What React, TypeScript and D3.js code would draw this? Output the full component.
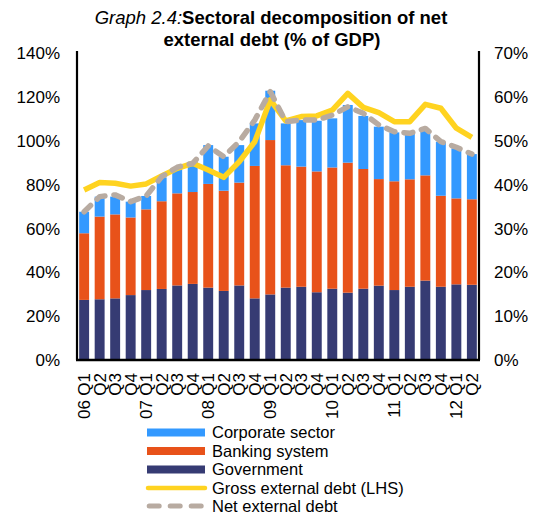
import React from "react";
import * as d3 from "d3";

const quarters = ["Q1","Q2","Q3","Q4","Q1","Q2","Q3","Q4","Q1","Q2","Q3","Q4","Q1","Q2","Q3","Q4","Q1","Q2","Q3","Q4","Q1","Q2","Q3","Q4","Q1","Q2"];
const years = ["06","","","","07","","","","08","","","","09","","","","10","","","","11","","","","12",""];

const government = [27.4,27.7,28.1,29.6,31.9,32.4,34.0,34.7,33.0,31.5,34.0,28.1,29.9,33.0,33.4,30.9,32.5,30.7,32.5,33.9,31.9,33.4,36.2,33.4,34.5,34.3];
const banking = [30.4,37.7,38.3,35.4,36.8,40.0,42.0,41.9,47.3,45.7,46.9,60.4,70.4,55.8,54.8,55.1,55.3,59.3,54.6,48.6,49.6,49.0,48.0,41.5,39.2,39.0];
const corporate = [9.8,9.1,8.1,7.2,6.1,10.9,11.4,13.8,17.7,15.5,17.1,19.4,22.5,19.1,21.2,23.1,22.4,26.3,24.2,23.9,22.3,20.9,20.4,24.6,22.8,20.6];
const grossDebt = [77.5,80.9,80.6,79.3,80.3,83.9,87.4,89.7,86.6,83.3,90.4,99.5,118.6,109.0,111.0,111.3,114.0,121.6,115.2,112.8,108.7,108.7,116.6,114.8,105.7,101.5];
const netDebt = [67.6,74.5,75.3,72.2,74.8,83.6,87.9,89.7,97.6,92.7,99.6,109.4,122.4,108.7,109.4,109.4,111.7,115.5,112.5,107.2,104.1,103.4,105.6,99.6,97.0,93.9];

const leftTicks = [0,20,40,60,80,100,120,140];
const rightTicks = [0,10,20,30,40,50,60,70];

const seriesNames = ["Corporate sector","Banking system","Government","Gross external debt (LHS)","Net external debt"];
const colors = { corp: "#3399FF", bank: "#E8521A", gov: "#363B73", gross: "#FFD320", net: "#B8ABA1" };

export default function App() {
  const W = 536, H = 514;
  const left = 77, right = 479, top = 53, bottom = 360;
  const idx = d3.range(quarters.length);
  const x = d3.scaleBand<number>().domain(idx).range([left, right]).paddingInner(0.36).paddingOuter(0.14);
  const y = d3.scaleLinear().domain([0, 140]).range([bottom, top]);
  const yR = d3.scaleLinear().domain([0, 70]).range([bottom, top]);
  const cx = (i: number) => (x(i) as number) + x.bandwidth() / 2;
  const line = d3.line<number>().x((_, i) => cx(i)).y((d) => y(d));
  const font = "'Liberation Sans', Arial, sans-serif";

  const stacks = idx.map((i) => {
    const g = government[i], b = banking[i], c = corporate[i];
    return [
      { y0: 0, y1: g, color: colors.gov },
      { y0: g, y1: g + b, color: colors.bank },
      { y0: g + b, y1: g + b + c, color: colors.corp },
    ];
  });

  const legendY = [432.5, 451, 469.5, 488, 506];

  return (
    <svg width={W} height={H} style={{ display: "block", position: "absolute", left: 0, top: 0 }} fontFamily={font}>
      <rect width={W} height={H} fill="#fff" />
      <text x={271} y={24} textAnchor="middle" fontSize={18.5}>
        <tspan fontStyle="italic">Graph 2.4:</tspan>
        <tspan fontWeight="bold">Sectoral decomposition of net</tspan>
      </text>
      <text x={272} y={46} textAnchor="middle" fontSize={18.5} fontWeight="bold">external debt (% of GDP)</text>

      {stacks.map((s, i) =>
        s.map((seg, j) => (
          <rect key={`${i}-${j}`} x={x(i)} y={y(seg.y1)} width={x.bandwidth()} height={y(seg.y0) - y(seg.y1)} fill={seg.color} />
        ))
      )}

      <path d={line(grossDebt) || ""} fill="none" stroke={colors.gross} strokeWidth={5.5} strokeLinejoin="round" />
      <path d={line(netDebt) || ""} fill="none" stroke={colors.net} strokeWidth={5.5} strokeDasharray="9 9" strokeLinecap="round" strokeLinejoin="round" />

      <line x1={left} x2={left} y1={top - 2} y2={bottom} stroke="#000" strokeWidth={2.2} />
      <line x1={right} x2={right} y1={top - 2} y2={bottom} stroke="#000" strokeWidth={2.2} />
      <line x1={left - 1} x2={right + 1} y1={bottom} y2={bottom} stroke="#000" strokeWidth={2.6} />

      {leftTicks.map((t) => (
        <text key={`l${t}`} x={60} y={y(t)} dy="0.36em" textAnchor="end" fontSize={17} fill="#000">{t}%</text>
      ))}
      {rightTicks.map((t) => (
        <text key={`r${t}`} x={494} y={yR(t)} dy="0.36em" textAnchor="start" fontSize={17} fill="#000">{t}%</text>
      ))}

      {quarters.map((q, i) => (
        <text key={`q${i}`} transform={`translate(${cx(i) + 6},${373}) rotate(-90)`} textAnchor="end" fontSize={17}>{q}</text>
      ))}
      {years.map((yr, i) => yr ? (
        <text key={`y${i}`} transform={`translate(${cx(i) + 6},${400}) rotate(-90)`} textAnchor="end" fontSize={17}>{yr}</text>
      ) : null)}

      {seriesNames.map((name, k) => {
        const ly = legendY[k];
        let sw;
        if (k === 0) sw = <rect x={147} y={ly - 4} width={58} height={8} fill={colors.corp} />;
        else if (k === 1) sw = <rect x={147} y={ly - 4} width={58} height={8} fill={colors.bank} />;
        else if (k === 2) sw = <rect x={147} y={ly - 4} width={58} height={8} fill={colors.gov} />;
        else if (k === 3) sw = <line x1={148} x2={205} y1={ly} y2={ly} stroke={colors.gross} strokeWidth={4.5} strokeLinecap="round" />;
        else sw = <line x1={149.2} x2={202} y1={ly} y2={ly} stroke={colors.net} strokeWidth={5} strokeDasharray="10 11" strokeLinecap="round" />;
        return (
          <g key={name}>
            {sw}
            <text x={212} y={ly} dy="0.34em" fontSize={16.5}>{name}</text>
          </g>
        );
      })}
    </svg>
  );
}
